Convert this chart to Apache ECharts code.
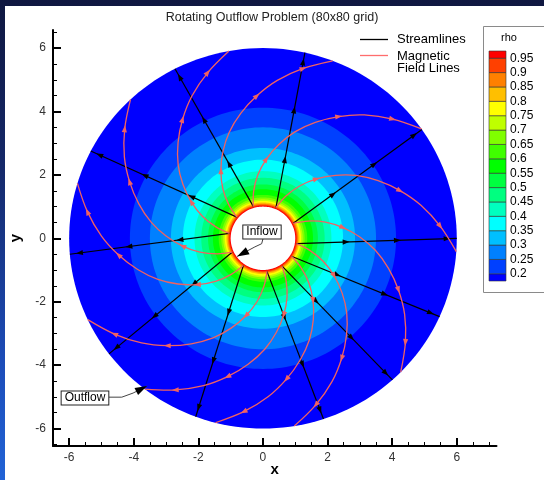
<!DOCTYPE html>
<html>
<head>
<meta charset="utf-8">
<script src="https://cdn.jsdelivr.net/npm/echarts@6/dist/echarts.min.js"></script>
<style>
html,body{margin:0;padding:0;background:#101842;}
#wrap{position:relative;width:544px;height:480px;overflow:hidden;
  background:linear-gradient(to bottom,#0f1740 0%,#15296a 35%,#1c4cb8 75%,#2163d6 100%);}
#panel{position:absolute;left:5px;top:6px;right:0;bottom:0;background:#ffffff;}
#chart{position:absolute;left:0;top:0;width:544px;height:480px;}
</style>
</head>
<body>
<div id="wrap"><div id="panel"></div><div id="chart"></div></div>
<script>
// ---------------- data ----------------
const titleText = 'Rotating Outflow Problem (80x80 grid)';

// contour levels of rho and the radius at which each level is reached
const rhoLevels   = [0.2, 0.25, 0.3, 0.35, 0.4, 0.45, 0.5, 0.55, 0.6, 0.65, 0.7, 0.75, 0.8, 0.85, 0.9, 0.95];
const levelRadius = [4.12, 3.5, 2.85, 2.48, 2.12, 1.91, 1.70, 1.55, 1.37, 1.29, 1.23, 1.18, 1.13, 1.09, 1.06, 1.03];
// band colours from rho < 0.2 up to rho > 0.95
const bandColors = ['#0000ff','#0040ff','#0080ff','#00bfff','#00ffff','#00ffbf','#00ff80','#00ff40',
                    '#00ff00','#40ff00','#80ff00','#bfff00','#ffff00','#ffbf00','#ff8000','#ff4000','#ff0000'];
const diskOuterRadius = 6.0;
const holeRadius = 1.0;

// streamlines: seed angle on the inner boundary, end angle on the outer boundary (degrees)
const streamSeedRadius = 1.05;
const streamStartDeg = [106.6, 140.4, 171.6, 204.6, 234.7, 276.8, 303.9, 327.3, 350.8, 26.8, 67.5];
const streamEndDeg   = [117.0, 152.7, 184.8, 217.4, 249.7, 288.2, 311.9, 335.7, 360.0, 34.9, 77.5];
const streamArrowAt  = [0.31, 0.63, 0.94];

// magnetic field lines: same seeds, winding profile (radius -> turn in degrees)
const fieldSeedDeg = [106.6, 140.4, 171.6, 204.6, 234.7, 276.8, 303.9, 327.3, 350.8, 26.8, 67.5];
const fieldProfileR    = [1.05, 1.5, 2.0, 2.5, 3.0, 3.5, 4.0, 4.5, 5.0, 5.5, 6.0];
const fieldProfileTurn = [0, -5.5, -12, -19, -26, -33, -40.5, -48, -55.5, -63.5, -71.5];
const fieldArrowIdx = [3, 7, 9];

// annotations
const noteText  = ['Inflow', 'Outflow'];
const noteAt    = [[-0.03, 0.2], [-5.51, -5.04]];
const notePath  = [
  [[0.01, 0.02], [-0.04, -0.17], [-0.25, -0.27], [-0.8, -0.57]],
  [[-4.8, -5.01], [-4.37, -5.01], [-4.02, -4.88], [-3.59, -4.66]]
];

// axes ticks
const xMajorTicks = [-6, -4, -2, 0, 2, 4, 6];
const xMinorTicks = [-6.5, -5.5, -5, -4.5, -3.5, -3, -2.5, -1.5, -1, -0.5, 0.5, 1, 1.5, 2.5, 3, 3.5, 4.5, 5, 5.5, 6.5, 7];
const yMajorTicks = [-6, -4, -2, 0, 2, 4, 6];
const yMinorTicks = [-6.5, -5.5, -5, -4.5, -3.5, -3, -2.5, -1.5, -1, -0.5, 0.5, 1, 1.5, 2.5, 3, 3.5, 4.5, 5, 5.5, 6.5];

// ---------------- helpers ----------------
const FONT = '"Liberation Sans", Arial, sans-serif';
const fieldColor = '#f06262';
function polarPt(r, deg) { const a = deg * Math.PI / 180; return [r * Math.cos(a), r * Math.sin(a)]; }
function headAt(center, dx, dy, len, half) {
  const L = Math.hypot(dx, dy) || 1, ux = dx / L, uy = dy / L, px = -uy, py = ux;
  const tip = [center[0] + ux * len / 2, center[1] + uy * len / 2];
  const bx = center[0] - ux * len / 2, by = center[1] - uy * len / 2;
  return [tip, [bx + px * half, by + py * half], [bx - px * half, by - py * half]];
}
function headTip(tip, dx, dy, len, half) {
  const L = Math.hypot(dx, dy) || 1, ux = dx / L, uy = dy / L, px = -uy, py = ux;
  const bx = tip[0] - ux * len, by = tip[1] - uy * len;
  return [tip, [bx + px * half, by + py * half], [bx - px * half, by - py * half]];
}

const diskRadii = [diskOuterRadius].concat(levelRadius, [holeRadius]);
const diskFill  = bandColors.concat(['#ffffff']);
const legendBands = bandColors.map((c, i) => [0,
  i === 0 ? rhoLevels[0] - 0.025 : rhoLevels[i - 1],
  i === bandColors.length - 1 ? rhoLevels[rhoLevels.length - 1] + 0.025 : rhoLevels[i]]);

const chart = echarts.init(document.getElementById('chart'), null, { renderer: 'canvas' });

const tickLabel = { color: '#333', fontSize: 12, fontFamily: FONT };

const option = {
  animation: false,
  textStyle: { fontFamily: FONT },
  title: {
    text: titleText, left: 'center', top: 11, padding: 0,
    textStyle: { fontSize: 12.5, fontWeight: 'normal', color: '#222', fontFamily: FONT }
  },
  grid: [
    { left: 53, top: 30, width: 443.5, height: 416, outerBoundsMode: 'none' },
    { left: 489, top: 51, width: 17, height: 230, outerBoundsMode: 'none' }
  ],
  xAxis: [
    { gridIndex: 0, type: 'value', min: -6.5, max: 7.23, position: 'bottom',
      axisLine: { show: true, onZero: false, lineStyle: { color: '#000', width: 2 } },
      axisTick: { show: true, inside: true, length: 4, customValues: xMinorTicks, lineStyle: { color: '#000', width: 1 } },
      axisLabel: { show: false }, splitLine: { show: false } },
    { gridIndex: 0, type: 'value', min: -6.5, max: 7.23, position: 'bottom',
      axisLine: { show: false, onZero: false },
      axisTick: { show: true, inside: true, length: 8, customValues: xMajorTicks, lineStyle: { color: '#000', width: 2 } },
      axisLabel: Object.assign({ customValues: xMajorTicks, margin: 6 }, tickLabel),
      splitLine: { show: false },
      name: 'x', nameLocation: 'middle', nameGap: 16, nameMoveOverlap: false,
      nameTextStyle: { fontWeight: 'bold', fontSize: 15, color: '#000', fontFamily: FONT } },
    { gridIndex: 1, type: 'category', data: ['rho'], show: false }
  ],
  yAxis: [
    { gridIndex: 0, type: 'value', min: -6.55, max: 6.57, position: 'left',
      axisLine: { show: true, onZero: false, lineStyle: { color: '#000', width: 2 } },
      axisTick: { show: true, inside: true, length: 4, customValues: yMinorTicks, lineStyle: { color: '#000', width: 1 } },
      axisLabel: { show: false }, splitLine: { show: false } },
    { gridIndex: 0, type: 'value', min: -6.55, max: 6.57, position: 'left',
      axisLine: { show: false, onZero: false },
      axisTick: { show: true, inside: true, length: 8, customValues: yMajorTicks, lineStyle: { color: '#000', width: 2 } },
      axisLabel: Object.assign({ customValues: yMajorTicks, margin: 7 }, tickLabel),
      splitLine: { show: false },
      name: 'y', nameLocation: 'middle', nameRotate: 90, nameGap: 30, nameMoveOverlap: false,
      nameTextStyle: { fontWeight: 'bold', fontSize: 15, color: '#000', fontFamily: FONT } },
    { gridIndex: 1, type: 'value', min: 0.175, max: 0.975, position: 'right',
      axisLine: { show: false }, axisTick: { show: false }, splitLine: { show: false },
      axisLabel: { customValues: rhoLevels, margin: 4, color: '#000', fontSize: 12, fontFamily: FONT,
        formatter: v => String(+(+v).toFixed(2)) } }
  ],
  graphic: [
    { type: 'rect', z: -1, silent: true, shape: { x: 483.5, y: 26.5, width: 80, height: 266 },
      style: { fill: '#fff', stroke: '#8a8a8a', lineWidth: 1 } },
    { type: 'text', silent: true, x: 509, y: 38, style: { text: 'rho', font: '11px ' + FONT, fill: '#000', align: 'center', verticalAlign: 'middle' } },
    { type: 'line', silent: true, shape: { x1: 360, y1: 39.5, x2: 388, y2: 39.5 }, style: { stroke: '#000', lineWidth: 1.3 } },
    { type: 'line', silent: true, shape: { x1: 360, y1: 55.5, x2: 388, y2: 55.5 }, style: { stroke: '#ff6d6d', lineWidth: 1.3 } },
    { type: 'text', silent: true, x: 397, y: 39.5, style: { text: 'Streamlines', font: '13px ' + FONT, fill: '#000', verticalAlign: 'middle' } },
    { type: 'text', silent: true, x: 397, y: 56, style: { text: 'Magnetic', font: '13px ' + FONT, fill: '#000', verticalAlign: 'middle' } },
    { type: 'text', silent: true, x: 397, y: 68, style: { text: 'Field Lines', font: '13px ' + FONT, fill: '#000', verticalAlign: 'middle' } }
  ],
  series: [
    { // contour bands of rho
      type: 'custom', name: 'rho', xAxisIndex: 0, yAxisIndex: 0, z: 1, silent: true,
      data: diskRadii.map((r, i) => [r, i]),
      renderItem(params, api) {
        const i = params.dataIndex, r = diskRadii[i];
        const pts = [];
        for (let a = 0; a < 360; a += 2) pts.push(api.coord(polarPt(r, a)));
        return { type: 'polygon', shape: { points: pts }, style: { fill: diskFill[i], stroke: null } };
      }
    },
    { // streamlines
      type: 'custom', name: 'Streamlines', xAxisIndex: 0, yAxisIndex: 0, z: 3, silent: true,
      data: streamStartDeg.map((d, i) => [d, i]),
      renderItem(params, api) {
        const i = params.dataIndex;
        const p0 = api.coord(polarPt(streamSeedRadius, streamStartDeg[i]));
        const p1 = api.coord(polarPt(diskOuterRadius, streamEndDeg[i]));
        const dx = p1[0] - p0[0], dy = p1[1] - p0[1];
        const children = [{ type: 'line', shape: { x1: p0[0], y1: p0[1], x2: p1[0], y2: p1[1] },
          style: { stroke: '#000', lineWidth: 1.2, fill: null } }];
        streamArrowAt.forEach(t => {
          const c = [p0[0] + dx * t, p0[1] + dy * t];
          children.push({ type: 'polygon', shape: { points: headAt(c, dx, dy, 7, 2.6) }, style: { fill: '#000', stroke: null } });
        });
        return { type: 'group', children };
      }
    },
    { // magnetic field lines
      type: 'custom', name: 'Magnetic Field Lines', xAxisIndex: 0, yAxisIndex: 0, z: 4, silent: true,
      data: fieldSeedDeg.map((d, i) => [d, i]),
      renderItem(params, api) {
        const s = fieldSeedDeg[params.dataIndex];
        const pts = fieldProfileR.map((r, k) => api.coord(polarPt(r, s + fieldProfileTurn[k])));
        const children = [{ type: 'polyline', shape: { points: pts, smooth: 0.35 },
          style: { stroke: fieldColor, lineWidth: 1.3, fill: 'none' } }];
        fieldArrowIdx.forEach(k => {
          const a = pts[k - 1], b = pts[k + 1];
          children.push({ type: 'polygon', shape: { points: headAt(pts[k], b[0] - a[0], b[1] - a[1], 7, 2.6) },
            style: { fill: fieldColor, stroke: null } });
        });
        return { type: 'group', children };
      }
    },
    { // Inflow / Outflow notes
      type: 'custom', name: 'notes', xAxisIndex: 0, yAxisIndex: 0, z: 6, silent: true,
      data: noteAt.map((p, i) => [p[0], p[1], i]),
      renderItem(params, api) {
        const i = params.dataIndex;
        const c = api.coord(noteAt[i]);
        const path = notePath[i].map(p => api.coord(p));
        const n = path.length;
        const tip = path[n - 1], prev = path[n - 2];
        return { type: 'group', children: [
          { type: 'polyline', shape: { points: path.slice(0, n - 1).concat([tip]) },
            style: { stroke: '#444', lineWidth: 1, fill: 'none' } },
          { type: 'polygon', shape: { points: headTip(tip, tip[0] - prev[0], tip[1] - prev[1], 12, 4) },
            style: { fill: '#000', stroke: null } },
          { type: 'text', x: c[0], y: c[1], style: { text: noteText[i], font: '12px ' + FONT, fill: '#000',
            align: 'center', verticalAlign: 'middle', backgroundColor: '#fff', borderColor: '#222', borderWidth: 1,
            padding: [1, 3, 0, 3] } }
        ] };
      }
    },
    { // colour bar of the rho legend
      type: 'custom', name: 'rho legend', xAxisIndex: 2, yAxisIndex: 2, z: 5, silent: true,
      data: legendBands,
      renderItem(params, api) {
        const cs = params.coordSys;
        const yHi = api.coord([0, api.value(2)])[1], yLo = api.coord([0, api.value(1)])[1];
        return { type: 'rect', shape: { x: cs.x, y: yHi, width: cs.width, height: yLo - yHi },
          style: { fill: bandColors[params.dataIndex], stroke: '#333', lineWidth: 0.6 } };
      }
    }
  ]
};
chart.setOption(option);
</script>
</body>
</html>
